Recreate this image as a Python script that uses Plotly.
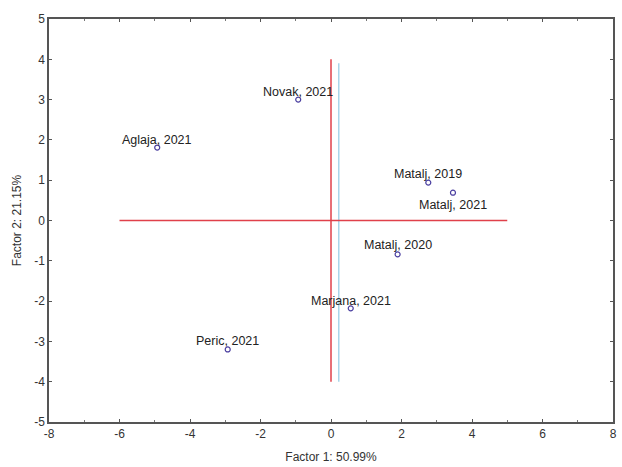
import plotly.graph_objects as go

# Factor scores of the samples
labels = ["Novak, 2021", "Aglaja, 2021", "Matalj, 2019", "Matalj, 2021",
          "Matalj, 2020", "Marjana, 2021", "Peric, 2021"]
factor1 = [-0.93, -4.93, 2.76, 3.46, 1.89, 0.56, -2.93]
factor2 = [3.00, 1.81, 0.94, 0.69, -0.84, -2.18, -3.20]
label_shift = [8, 8, 9, -12, 9, 7, 8]

# Reference cross lines
h_line_x = [-6, 5]
h_line_y = [0, 0]
v_line_x = [0, 0]
v_line_y = [-4, 4]
blue_line_x = [0.22, 0.22]
blue_line_y = [-4, 3.9]

# Tick labels
x_ticks = [-8, -6, -4, -2, 0, 2, 4, 6, 8]
y_ticks = [-5, -4, -3, -2, -1, 0, 1, 2, 3, 4, 5]

FONT = "Liberation Sans, Arial, sans-serif"

fig = go.Figure()

fig.add_trace(go.Scatter(x=blue_line_x, y=blue_line_y, mode="lines",
                         line=dict(color="#a9d6ea", width=1.5), hoverinfo="skip"))
fig.add_trace(go.Scatter(x=h_line_x, y=h_line_y, mode="lines",
                         line=dict(color="#e0404a", width=1.5), hoverinfo="skip"))
fig.add_trace(go.Scatter(x=v_line_x, y=v_line_y, mode="lines",
                         line=dict(color="#e0404a", width=1.5), hoverinfo="skip"))

fig.add_trace(go.Scatter(
    x=factor1, y=factor2, mode="markers",
    marker=dict(symbol="circle-open", size=5, color="#4b3fa0", line=dict(width=1.2)),
))

for xv, yv, txt, sh in zip(factor1, factor2, labels, label_shift):
    fig.add_annotation(x=xv, y=yv, text=txt, showarrow=False, yshift=sh,
                       font=dict(family=FONT, size=12.5, color="#222222"))

axis_common = dict(
    showgrid=False, zeroline=False, showline=True, mirror="allticks",
    linecolor="#555555", linewidth=1.5, ticks="inside", ticklen=3,
    tickcolor="#555555", tickfont=dict(family=FONT, size=12, color="#333333"),
)

fig.update_xaxes(range=[-8, 8], tickmode="array", tickvals=x_ticks,
                 ticktext=[str(v) for v in x_ticks],
                 minor=dict(dtick=1, tick0=-8, ticks="inside", ticklen=2, tickcolor="#777777"),
                 title=dict(text="Factor 1: 50.99%", standoff=12,
                            font=dict(family=FONT, size=12, color="#333333")),
                 **axis_common)
fig.update_yaxes(range=[-5, 5], tickmode="array", tickvals=y_ticks,
                 ticktext=[str(v) for v in y_ticks],
                 title=dict(text="Factor 2: 21.15%", standoff=10,
                            font=dict(family=FONT, size=12, color="#333333")),
                 **axis_common)

fig.update_layout(
    width=622, height=467,
    margin=dict(l=49, r=5, t=19, b=45),
    plot_bgcolor="white", paper_bgcolor="white",
    showlegend=False,
)

fig.write_html("out.html")
